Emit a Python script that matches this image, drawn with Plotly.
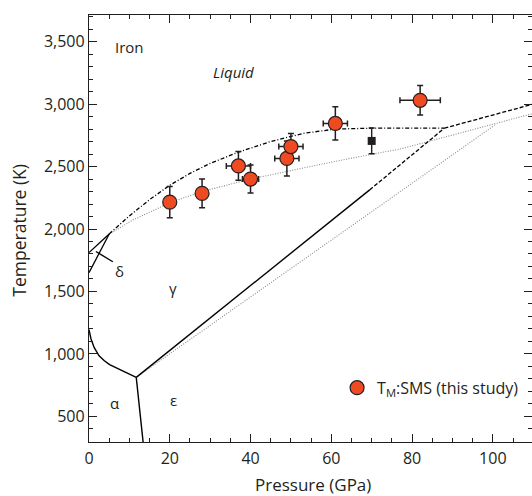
import plotly.graph_objects as go

# ---- data ----
sms_p = [20, 28, 37, 40, 49, 50, 61, 82]
sms_t = [2215, 2285, 2505, 2400, 2565, 2660, 2845, 3030]
sms_perr = [0, 0, 3, 2, 3, 3, 3, 5]
sms_terr = [125, 115, 115, 112, 140, 105, 133, 118]

sq_p = [70]
sq_t = [2705]
sq_terr = [103]

delta_liq_p = [0, 5]
delta_liq_t = [1811, 1960]
delta_gam_p = [0, 5]
delta_gam_t = [1650, 1960]

melt_p = [5, 10, 15, 20, 25, 30, 37, 45, 53, 61, 70, 88]
melt_t = [1960, 2105, 2235, 2350, 2445, 2525, 2615, 2700, 2765, 2800, 2807, 2807]
melt_ext_p = [88, 110]
melt_ext_t = [2807, 3000]

ge_p = [11.7, 69.5]
ge_t = [812, 2313]
ge_ext_p = [69.5, 88]
ge_ext_t = [2313, 2807]

ag_p = [0, 0.5, 1.3, 2.5, 3.8, 5.1, 11.7]
ag_t = [1195, 1120, 1050, 985, 945, 914, 812]

ae_p = [11.7, 13.4]
ae_t = [812, 295]

grey_melt_p = [5, 11, 20, 28, 40, 50, 60, 70, 77, 84, 100, 110]
grey_melt_t = [1960, 2074, 2210, 2300, 2400, 2470, 2535, 2598, 2640, 2700, 2840, 2925]

grey_ge_p = [11.7, 100.4]
grey_ge_t = [812, 2830]

pointer_p = [1.7, 5.9]
pointer_t = [1820, 1738]

label_text = ["Iron", "<i>Liquid</i>", "δ", "γ", "α", "ε"]
label_p = [10.1, 35.7, 7.6, 20.8, 6.4, 20.8]
label_t = [3454, 3258, 1660, 1527, 607, 634]

x_title = "Pressure (GPa)"
y_title = "Temperature (K)"
legend_name = "T<sub>M</sub>:SMS (this study)"

FONT = "Open Sans"
TXT = "#231f20"
GREY = "#8a8a8a"
ORANGE = "#ef4b23"

fig = go.Figure()

def line(p, t, color="black", width=1.3, dash="solid"):
    fig.add_trace(go.Scatter(x=p, y=t, mode="lines", showlegend=False,
                             hoverinfo="skip",
                             line=dict(color=color, width=width, dash=dash)))

line(grey_melt_p, grey_melt_t, GREY, 1.1, "1px,1.5px")
line(grey_ge_p, grey_ge_t, GREY, 1.1, "1px,1.5px")
line(delta_liq_p, delta_liq_t)
line(delta_gam_p, delta_gam_t)
line(melt_p, melt_t, "black", 1.3, "4px,2px,1px,2px")
line(melt_ext_p, melt_ext_t, "black", 1.3, "4px,2px")
line(ge_p, ge_t, "black", 1.4)
line(ge_ext_p, ge_ext_t, "black", 1.3, "4px,2px")
line(ag_p, ag_t, "black", 1.4)
line(ae_p, ae_t, "black", 1.4)
line(pointer_p, pointer_t, "black", 1.4)

fig.add_trace(go.Scatter(
    x=sq_p, y=sq_t, mode="markers", showlegend=False,
    marker=dict(symbol="square", size=8, color="#231f20"),
    error_y=dict(type="data", array=sq_terr, color="#231f20", thickness=1.4, width=3),
))

fig.add_trace(go.Scatter(
    x=sms_p, y=sms_t, mode="markers", name=legend_name,
    marker=dict(symbol="circle", size=14, color=ORANGE,
                line=dict(color="#231f20", width=1.2)),
    error_y=dict(type="data", array=sms_terr, color="#231f20", thickness=1.5, width=3),
    error_x=dict(type="data", array=sms_perr, color="#231f20", thickness=1.5, width=3),
))

for txt, p, t in zip(label_text, label_p, label_t):
    fig.add_annotation(x=p, y=t, text=txt, showarrow=False,
                       font=dict(family=FONT, size=15, color=TXT))

# axis titles as paper-anchored annotations
fig.add_annotation(xref="paper", yref="paper", x=0.505, y=0, yshift=-42,
                   xanchor="center", yanchor="middle", showarrow=False,
                   text=x_title, font=dict(family=FONT, size=17, color=TXT))
fig.add_annotation(xref="paper", yref="paper", x=0, y=0.495, xshift=-70,
                   xanchor="center", yanchor="middle", showarrow=False,
                   textangle=-90,
                   text=y_title, font=dict(family=FONT, size=17.5, color=TXT))

axis_common = dict(
    showline=True, linecolor="#231f20", linewidth=1.3, mirror="ticks",
    ticks="inside", ticklen=8, tickwidth=1.2, tickcolor="#231f20",
    showgrid=False, zeroline=False, automargin=False,
    tickfont=dict(family=FONT, size=16, color=TXT),
)

fig.update_xaxes(range=[0, 109.7], dtick=20, tick0=0, ticklabelstandoff=2,
                 minor=dict(dtick=5, ticks="inside", ticklen=4, tickwidth=1.1, tickcolor="#231f20"),
                 **axis_common)
fig.update_yaxes(range=[295, 3713], dtick=500, tick0=500, separatethousands=True,
                 minor=dict(dtick=100, ticks="inside", ticklen=4, tickwidth=1.1, tickcolor="#231f20"),
                 **axis_common)

fig.update_layout(
    width=532, height=496,
    margin=dict(l=89, r=0, t=15, b=54),
    paper_bgcolor="white", plot_bgcolor="white",
    font=dict(family=FONT, color=TXT),
    legend=dict(x=0.56, y=0.127, xanchor="left", yanchor="middle",
                bgcolor="rgba(0,0,0,0)", borderwidth=0, itemwidth=30,
                font=dict(family=FONT, size=16, color=TXT)),
)

fig.write_html("out.html",
               config={"displayModeBar": False},
               post_script="document.body.style.margin='0';document.body.style.overflow='hidden';")
